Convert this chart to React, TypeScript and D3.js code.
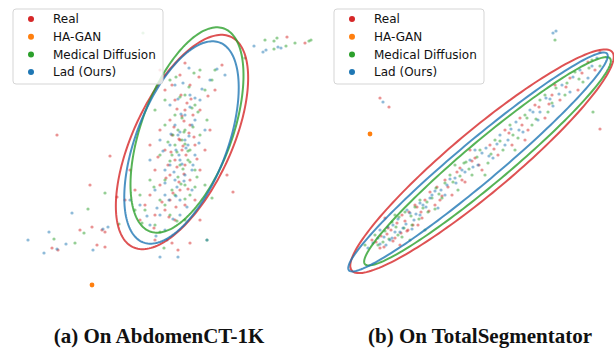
import React, { useEffect, useRef } from 'react';
import * as d3 from 'd3';

type Pt = [number, number];

interface IEllipse {
  cx: number;
  cy: number;
  a: number;
  b: number;
  angle: number;
}

// legend / series
const seriesNames = ['Real', 'HA-GAN', 'Medical Diffusion', 'Lad (Ours)'];
const seriesColors = ['#d62728', '#ff7f0e', '#2ca02c', '#1f77b4'];
const captions = ['(a) On AbdomenCT-1K', '(b) On TotalSegmentator'];

// panel (a) embedding
const realA: Pt[] = [
  [33, 42], [35, 40], [37, 38], [34, 36], [38, 35], [32, 34], [36, 32], [39, 31], [33, 30], [35, 28],
  [37, 27], [31, 26], [34, 25], [38, 24], [32, 23], [36, 22], [30, 21], [34, 20], [29, 19], [33, 18],
  [37, 19], [31, 17], [35, 16], [28, 16], [40, 26], [41, 30], [40, 38], [36, 45], [32, 46], [38, 43],
  [39, 20], [27, 22], [26, 26], [30, 31], [42, 34], [34.4, 33], [36.4, 30], [33.6, 27], [44.4, 47], [43, 42],
  [31, 12], [25, 20], [18, 23], [23.4, 20.6], [18.4, 14.6], [20.4, 14], [21, 13.6], [19.4, 11], [21, 10.6], [10.4, 10.4],
  [11.6, 10], [16, 14], [57.4, 52.6], [61, 51.4], [22, 28.8], [46.6, 21.6], [45.4, 25], [40, 16], [34.4, 11.4], [35.6, 10],
  [38, 11.4], [11.4, 33],
  [36.2, 41], [37.4, 39.4], [35.4, 38.2], [38.6, 37], [36.8, 35.8], [34.8, 34.6], [37.8, 33.4], [35.8, 32.2], [38.8, 32.6], [36.6, 30.8],
  [34.2, 29.6], [37.2, 29], [39.4, 28.2], [35.4, 26.6], [36.8, 25.2], [33.2, 24.4], [35.8, 23.6], [37.6, 22.2], [34.6, 21.4], [32.4, 19.6],
  [35.2, 18.6], [33.8, 16.6], [30.8, 14.4], [36.4, 36.8], [38.2, 40.2], [34.4, 43], [39.8, 44.6], [37, 47.4], [41.6, 40.8], [31.6, 28.6],
];
const haganA: Pt[] = [[18.4, 3]];
const mdA: Pt[] = [
  [34, 44], [37, 41], [39, 39], [35, 37], [33, 35], [37, 34], [40, 33], [35, 31], [38, 30], [32, 29],
  [36, 27], [39, 26], [33, 24], [37, 23], [30, 24], [35, 21], [32, 20], [38, 21], [29, 18], [34, 17],
  [31, 15], [41, 42], [43, 46], [40, 46], [33, 40], [35.6, 34], [36.4, 32], [34.4, 29], [37.6, 28], [28, 21],
  [41, 23], [27, 18], [31, 38], [37, 16], [28.6, 53.4], [53, 52], [55.4, 52.4], [54.8, 51.8], [57.2, 50.8], [59, 51.4],
  [61.8, 51.8], [54.8, 50.2], [21, 21.4], [17.6, 18.2], [15, 11.4], [10.8, 12.2], [16.8, 13.4], [23.8, 15.2], [42.4, 20.4], [41.4, 12],
  [32.8, 10.4], [49, 48.4],
  [37.8, 42.6], [36, 40.6], [38.4, 38.4], [36.4, 36.4], [34.6, 33], [38.6, 34.6], [37, 31.2], [35.4, 29.6], [38, 27.6], [36.6, 26.2],
  [34, 27.8], [39.4, 24.6], [36.2, 23.2], [34.4, 22], [37, 20.2], [33, 19], [35.4, 15.8], [32, 13.6], [39.6, 37.6], [41.4, 36],
  [35.2, 44.6], [38.8, 45.4], [42.4, 44], [30.8, 22.6], [36.8, 33.6], [37.6, 29.8], [35.6, 24.6], [33.6, 31.6], [39, 22.6], [28.4, 15.4],
];
const ladA: Pt[] = [
  [35, 43], [38, 41], [34, 39], [37, 37], [39, 36], [35, 35], [32, 32], [37, 32], [34, 31], [39, 29],
  [36, 28], [33, 26], [37, 25], [35, 24], [31, 22], [36, 20], [33, 21], [28, 19], [32, 17], [36, 17],
  [30, 15], [42, 44], [45, 45], [33, 45], [40, 40], [35.6, 33], [37.6, 31], [35.2, 30], [34, 27], [38.4, 22],
  [30, 28], [26, 20], [33, 14], [41, 34], [50.8, 50.8], [52.6, 49.6], [53.2, 50], [55.6, 50.6], [56.2, 50.4], [5.6, 12],
  [9.8, 13.6], [14.4, 17.4], [13.2, 11.2], [11.4, 10.2], [8.8, 9.4], [18.6, 10], [20.6, 14.2], [21.6, 14.6], [32, 8.6], [35.6, 8.6],
  [41.4, 12], [33.4, 12],
  [36.6, 43.4], [39, 40.4], [35.6, 40.2], [38, 38.6], [36.2, 37.2], [38.4, 35], [36, 33.6], [34.2, 33.2], [37.2, 30.4], [35.8, 29],
  [38.6, 27], [34.8, 25.6], [36.8, 23.8], [35.4, 22.6], [33.8, 20], [37.4, 18.6], [34.6, 16.2], [31.4, 18.4], [29.4, 16.8], [40.4, 42.2],
  [43.4, 46.2], [37.8, 46.4], [36.4, 27.2], [37.8, 32.8], [39.8, 31.4], [32.6, 29.8], [35.2, 20.8], [33, 23.4], [38.4, 26], [31.2, 12.8],
];

// panel (b) embedding
const realB: Pt[] = [
  [13, 12], [14.6, 10.4], [16.2, 14.4], [17.6, 12.4], [19, 17], [20.2, 14], [21.6, 19], [23, 16.4], [24.6, 21.6], [25.6, 19],
  [27.6, 24], [29, 21], [30.6, 26.4], [31.6, 23.6], [33.6, 28.4], [35, 26], [36.6, 31], [38.2, 29], [39.6, 34], [41, 31],
  [42.6, 36.4], [44.2, 34], [45.6, 39], [47.6, 36.4], [49, 41], [50.6, 40], [52.6, 44.4], [54.2, 42], [56.2, 47.6], [57.6, 46],
  [58.6, 49.6], [15.6, 16.4], [22.2, 15], [26.6, 20], [32.6, 30], [43.6, 32], [49.6, 43], [18.6, 11], [16.4, 38.6], [14.6, 40.4],
  [58.6, 34.2],
  [13.8, 11.6], [14.8, 12.8], [15.4, 10.6], [16.8, 14], [17.2, 11.8], [18, 15.4], [18.8, 13.4], [19.6, 15.8], [20.4, 17.6], [21.2, 15],
  [22, 18.6], [22.8, 17.6], [23.6, 20], [24.4, 17.8], [26, 22.6], [27, 20.8], [28.2, 22.6], [30, 25.6], [31, 24], [33, 27.8],
  [34.4, 27], [37.4, 30.2], [40.4, 33.4], [43, 35], [46.4, 38.6], [48.4, 39.2], [51.8, 42.6], [55, 45.4], [20, 13.8], [16, 13.2],
];
const haganB: Pt[] = [[12.6, 33.2]];
const mdB: Pt[] = [
  [13.6, 13], [15.2, 11.6], [17, 15.6], [18.2, 13], [19.6, 17.6], [21, 15], [22.6, 20], [24.2, 17.6], [25.8, 22.4], [27, 20.4],
  [28.6, 25], [30.2, 22], [31.8, 27.6], [33, 25], [34.6, 30], [36.2, 27.4], [37.6, 32], [39.2, 30], [40.6, 35], [42.2, 32.4],
  [43.6, 37], [45, 35], [46.6, 40], [48.2, 37.6], [49.8, 42.4], [51.6, 41], [53.6, 45.6], [55.2, 43.6], [57, 48], [58.6, 46.8],
  [17.6, 17], [23.6, 14], [29.6, 27], [35.6, 25], [41.6, 30], [47.6, 41], [11.6, 11], [20.6, 12], [57.2, 37.6], [49.6, 52],
  [0.8, 52],
  [14.2, 11], [15.6, 13.8], [16.4, 12.2], [17.8, 14.6], [18.4, 16.6], [19.4, 14.4], [20.8, 16.8], [21.6, 18.6], [22.4, 16.2], [23.2, 18.4],
  [24, 19.6], [25, 20.4], [26.4, 21.2], [27.6, 23.4], [29.2, 23.6], [30.6, 24.8], [32.4, 26.2], [34, 28.6], [36.8, 29.2], [38.6, 31.8],
  [41.2, 33], [44, 36.4], [45.8, 36.2], [49, 39.4], [52, 43.4], [54.4, 44.2], [56.4, 46.4], [19, 12.6], [25.6, 18.2], [31.4, 27.4],
];
const ladB: Pt[] = [
  [12.2, 10.4], [14.2, 12.4], [15.8, 11], [17.2, 15], [18.6, 13.6], [20, 18], [21.4, 16], [23.2, 19], [25, 21], [26.2, 18.4],
  [28, 23], [29.6, 24.4], [31, 26], [32.6, 28], [34.2, 27], [35.8, 30.4], [37.2, 28.4], [38.6, 33], [40.2, 32], [41.8, 35.6],
  [43.2, 33.6], [44.6, 38], [46.2, 36], [47.8, 40.4], [49.2, 38.8], [51, 43], [52.6, 41.6], [54.6, 46], [56.2, 44.4], [58, 48.4],
  [16.6, 12], [22.6, 17], [27.6, 21], [33.6, 30], [39.6, 31], [46.6, 37.6], [14.6, 14], [19.2, 14.4], [15.2, 39.6], [49.2, 53.4],
  [49.8, 53.8],
  [13.2, 11.4], [14.6, 11.2], [15.4, 12.6], [16.2, 14.6], [17.6, 13.6], [18.2, 16.2], [19.8, 15.2], [20.6, 17.4], [21.8, 17.2], [22.6, 19.4],
  [23.8, 18.6], [24.6, 20.4], [25.6, 21.8], [26.8, 22], [28.6, 24.2], [29.8, 23.4], [31.6, 25.6], [33.2, 26.6], [35, 29.4], [36.4, 28.8],
  [38, 31.2], [40.8, 34.2], [42.4, 34], [45.2, 37.6], [48.6, 40.2], [50.4, 41.2], [53.2, 44.6], [57, 46.8], [17, 12.4], [21, 14.2],
];

// covariance ellipses: Real, Medical Diffusion, Lad
const ellipsesA: IEllipse[] = [
  { cx: 36.4, cy: 31.6, a: 23.2, b: 9.8, angle: 65 },
  { cx: 37.4, cy: 34, a: 21.6, b: 9.1, angle: 70 },
  { cx: 36.3, cy: 31.5, a: 21.4, b: 9.1, angle: 69 },
];
const ellipsesB: IEllipse[] = [
  { cx: 35, cy: 27.74, a: 34, b: 6.2, angle: 40 },
  { cx: 36.1, cy: 27.74, a: 32, b: 4.35, angle: 40 },
  { cx: 34.2, cy: 27.6, a: 33.7, b: 4.15, angle: 40 },
];
const ellipseColors = ['#d62728', '#2ca02c', '#1f77b4'];

const App: React.FC = () => {
  const containerRef = useRef<HTMLDivElement>(null);

  useEffect(() => {
    if (containerRef && containerRef.current) {
      d3.select('body').style('margin', '0');
      drawChart(containerRef.current);
    }
  }, [containerRef]);

  return <div ref={containerRef}></div>;
};

const drawChart = (container: HTMLDivElement) => {
  d3.select(container).selectAll('*').remove();
  const svg = d3
    .select(container)
    .append('svg')
    .attr('width', 614)
    .attr('height', 351)
    .style('display', 'block')
    .style('background', '#fff');

  const panels = [
    { x0: 0, xMax: 62, series: [realA, haganA, mdA, ladA], ellipses: ellipsesA, legendX: 13, capX: 159 },
    { x0: 307, xMax: 61.4, series: [realB, haganB, mdB, ladB], ellipses: ellipsesB, legendX: 334, capX: 480 },
  ];

  panels.forEach((p, pi) => {
    const g = svg.append('g').attr('transform', `translate(${p.x0}, 0)`);
    const xScale = d3.scaleLinear().domain([0, p.xMax]).range([0, p.xMax * 5]);
    const yScale = d3.scaleLinear().domain([0, 60]).range([300, 0]);

    p.series.forEach((pts, si) => {
      const isGan = si === 1;
      g.append('g')
        .selectAll('circle')
        .data(pts)
        .enter()
        .append('circle')
        .attr('cx', (d) => xScale(d[0]))
        .attr('cy', (d) => yScale(d[1]))
        .attr('r', isGan ? 2.4 : 1.6)
        .attr('fill', seriesColors[si])
        .attr('fill-opacity', isGan ? 1 : 0.5);
    });

    const line = d3
      .line<Pt>()
      .x((d) => xScale(d[0]))
      .y((d) => yScale(d[1]))
      .curve(d3.curveLinearClosed);

    p.ellipses.forEach((e, ei) => {
      const phi = (e.angle * Math.PI) / 180;
      const outline: Pt[] = d3.range(0, 360, 2).map((deg) => {
        const t = (deg * Math.PI) / 180;
        return [
          e.cx + e.a * Math.cos(t) * Math.cos(phi) - e.b * Math.sin(t) * Math.sin(phi),
          e.cy + e.a * Math.cos(t) * Math.sin(phi) + e.b * Math.sin(t) * Math.cos(phi),
        ];
      });
      g.append('path')
        .attr('d', line(outline) || '')
        .attr('fill', 'none')
        .attr('stroke', ellipseColors[ei])
        .attr('stroke-width', 2)
        .attr('stroke-opacity', 0.8);
    });

    // legend
    const lg = svg.append('g').attr('transform', `translate(${p.legendX}, 9)`);
    lg.append('rect')
      .attr('width', 150)
      .attr('height', 75)
      .attr('rx', 3)
      .attr('fill', '#fff')
      .attr('fill-opacity', 0.8)
      .attr('stroke', '#d5d5d5');
    seriesNames.forEach((name, i) => {
      const row = lg.append('g').attr('transform', `translate(0, ${10 + i * 17.7})`);
      row.append('circle').attr('cx', 18).attr('cy', 0).attr('r', 3).attr('fill', seriesColors[i]);
      row
        .append('text')
        .attr('x', 40)
        .attr('y', 0)
        .attr('dy', '0.35em')
        .style('font-family', 'DejaVu Sans')
        .style('font-size', '12px')
        .attr('fill', '#111')
        .text(name);
    });

    svg
      .append('text')
      .attr('x', p.capX)
      .attr('y', 343)
      .style('text-anchor', 'middle')
      .style('font-family', '"Liberation Serif", serif')
      .style('font-weight', 'bold')
      .style('font-size', '21px')
      .attr('fill', '#111')
      .text(captions[pi]);
  });
};

export default App;
